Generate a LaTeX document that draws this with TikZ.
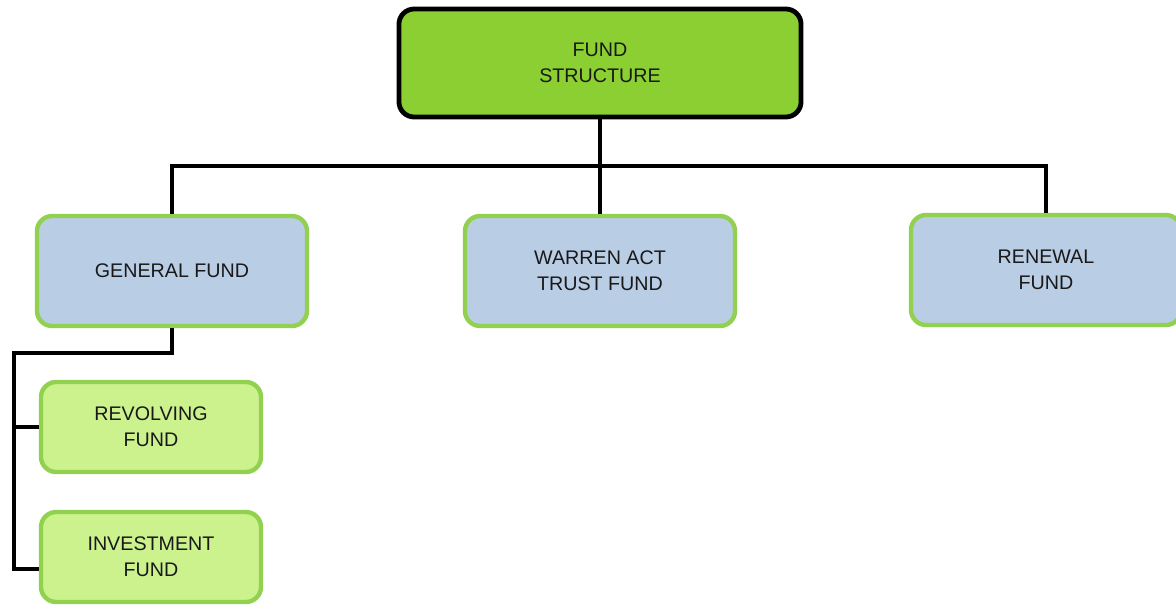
\documentclass[tikz,border=0pt]{standalone}
\usepackage{fontspec}
\setmainfont{Liberation Sans}
\definecolor{topgreen}{RGB}{139,207,50}
\definecolor{edgegreen}{RGB}{146,208,80}
\definecolor{paleblue}{RGB}{185,205,229}
\definecolor{palegreen}{RGB}{204,242,142}
\tikzset{
  fundbox/.style={draw=edgegreen, line width=1.1mm, rounded corners=3.8mm,
    align=center, font=\fontsize{14}{18.5}\selectfont, text=black!90,
    minimum width=6.75cm, minimum height=2.75cm, inner sep=0pt},
  topbox/.style={fundbox, draw=black, fill=topgreen, line width=1.2mm,
    minimum width=10.05cm, minimum height=2.7cm},
  mainbox/.style={fundbox, fill=paleblue},
  subbox/.style={fundbox, fill=palegreen, minimum width=5.5cm, minimum height=2.25cm},
  conn/.style={line width=1mm, black}
}
\begin{document}
\begin{tikzpicture}[x=0.025cm, y=-0.025cm]
\useasboundingbox (0,0) rectangle (1176,605);
\node [topbox] (top) at (600,63) {FUND\\STRUCTURE};
\node [mainbox] (general) at (172,271) {GENERAL FUND};
\node [mainbox] (warren) at (600,271) {WARREN ACT\\TRUST FUND};
\node [mainbox] (renewal) at (1046,270) {RENEWAL\\FUND};
\node [subbox] (revolving) at (151,427) {REVOLVING\\FUND};
\node [subbox] (investment) at (151,557) {INVESTMENT\\FUND};
% tree lines
\coordinate (bus) at (600,166);
\coordinate (spine) at (14,353);
\draw [conn] (top.south) -- (warren.north);
\draw [conn] (general.north) |- (bus) -| (renewal.north);
\draw [conn] (general.south) |- (spine) |- (revolving.west);
\draw [conn] (spine) |- ([yshift=-0.3cm]investment.west);
\end{tikzpicture}
\end{document}
